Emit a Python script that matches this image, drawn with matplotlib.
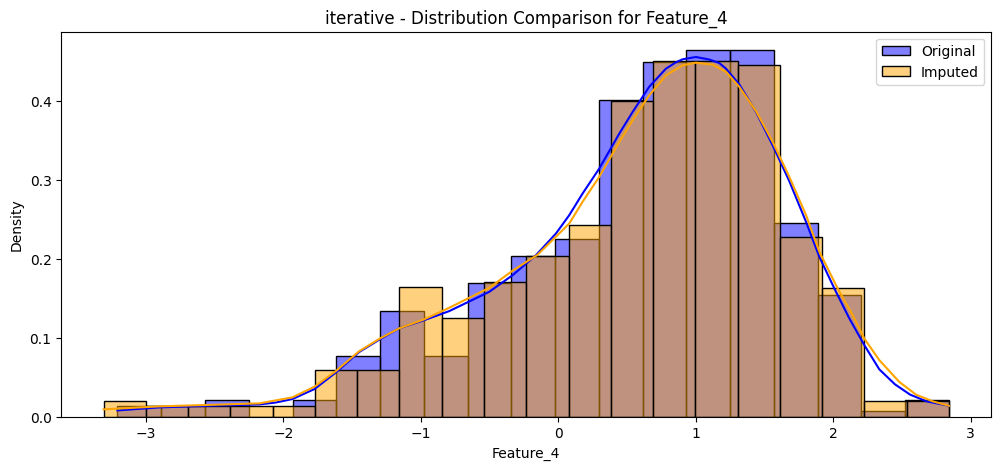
import numpy as np
import pandas as pd
import matplotlib
matplotlib.use("Agg")
import matplotlib.pyplot as plt
from matplotlib.colors import to_rgba
from matplotlib.patches import Patch

# histogram bins (edges span, number of bins)
orig_range = (-3.207, 2.843)
orig_nbins = 19
imp_range = (-3.308, 2.843)
imp_nbins = 20

# bar heights (density)
orig_density = [0.0135, 0.0135, 0.021, 0.0, 0.021, 0.077, 0.134, 0.077, 0.169, 0.203,
                0.225, 0.401, 0.450, 0.4645, 0.4645, 0.246, 0.154, 0.007, 0.021]
imp_density = [0.0198, 0.0135, 0.0135, 0.0135, 0.0135, 0.059, 0.059, 0.1646, 0.1247, 0.1709,
               0.2034, 0.2426, 0.3996, 0.451, 0.451, 0.4451, 0.2283, 0.1637, 0.0198, 0.0198]

# kde curves
orig_kde_x = [-3.207, -2.904, -2.54, -2.176, -2.055, -1.934, -1.774, -1.618, -1.448, -1.298,
              -1.157, -0.98, -0.793, -0.502, -0.332, -0.162, -0.017, 0.080, 0.177, 0.298,
              0.444, 0.541, 0.662, 0.784, 0.857, 0.905, 1.002, 1.099, 1.172, 1.22,
              1.317, 1.439, 1.56, 1.681, 1.803, 1.900, 2.009, 2.118, 2.227, 2.336,
              2.45, 2.56, 2.68, 2.78, 2.843]
orig_kde_y = [0.008, 0.0118, 0.0139, 0.0156, 0.018, 0.0224, 0.035, 0.056, 0.082, 0.098,
              0.112, 0.122, 0.1338, 0.1582, 0.1793, 0.2046, 0.232, 0.2553, 0.2827, 0.3143,
              0.3586, 0.386, 0.418, 0.441, 0.449, 0.4528, 0.4557, 0.4525, 0.448, 0.441,
              0.421, 0.386, 0.344, 0.2985, 0.2468, 0.2025, 0.1624, 0.1245, 0.0907, 0.060,
              0.041, 0.028, 0.0195, 0.016, 0.0139]

imp_kde_x = [-3.308, -2.904, -2.54, -2.176, -1.934, -1.774, -1.618, -1.448, -1.298,
             -1.157, -0.98, -0.793, -0.502, -0.332, -0.152, -0.017, 0.080, 0.177, 0.298,
             0.444, 0.541, 0.662, 0.784, 0.905, 1.002, 1.123, 1.22, 1.317, 1.439,
             1.56, 1.681, 1.803, 1.900, 2.033, 2.142, 2.227, 2.336, 2.482, 2.603,
             2.724, 2.843]
imp_kde_y = [0.0093, 0.0131, 0.015, 0.0169, 0.0245, 0.038, 0.0578, 0.083, 0.099,
             0.112, 0.123, 0.138, 0.1633, 0.185, 0.205, 0.228, 0.2447, 0.2722, 0.3038,
             0.348, 0.3756, 0.4072, 0.4325, 0.4452, 0.4485, 0.446, 0.437, 0.418, 0.387,
             0.348, 0.304, 0.2553, 0.2089, 0.1624, 0.1287, 0.099, 0.0717, 0.044, 0.028,
             0.0195, 0.0139]

method = "iterative"
feature = "Feature_4"

fig, ax = plt.subplots(figsize=(12, 5), dpi=100)

def draw_hist(rng, nbins, heights, color):
    edges = np.linspace(rng[0], rng[1], nbins + 1)
    ax.bar(edges[:-1], heights, width=np.diff(edges), align="edge",
           facecolor=to_rgba(color, 0.5), edgecolor="black", linewidth=1)

draw_hist(orig_range, orig_nbins, orig_density, "blue")
ax.plot(orig_kde_x, orig_kde_y, color="blue", lw=1.5)
draw_hist(imp_range, imp_nbins, imp_density, "orange")
ax.plot(imp_kde_x, imp_kde_y, color="orange", lw=1.5)

handles = [Patch(facecolor=to_rgba("blue", 0.5), edgecolor="black", label="Original"),
           Patch(facecolor=to_rgba("orange", 0.5), edgecolor="black", label="Imputed")]
ax.legend(handles=handles, loc="upper right")

ax.set_title(f"{method} - Distribution Comparison for {feature}")
ax.set_xlabel(feature)
ax.set_ylabel("Density")

plt.savefig("out.png", dpi=100, bbox_inches="tight")
